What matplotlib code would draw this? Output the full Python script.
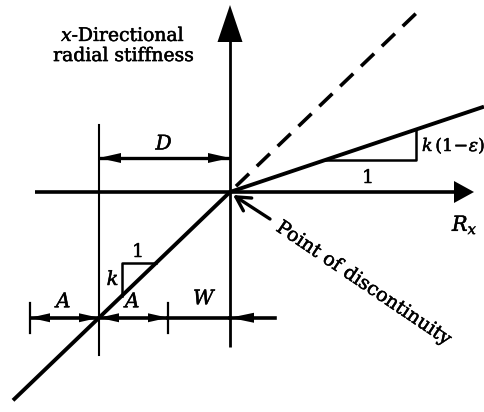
import numpy as np
import matplotlib
matplotlib.use("Agg")
import matplotlib.pyplot as plt
import matplotlib.patheffects as pe
from matplotlib.patches import Polygon

plt.rcParams["mathtext.fontset"] = "dejavuserif"
plt.rcParams["font.family"] = ["DejaVu Serif"]

# Stiffness model parameters (drawing units)
k = 0.96          # initial stiffness slope
eps = 0.65        # stiffness reduction factor
A = 69            # half-width of the contact band
W = 62            # gap to the discontinuity
D = A + W         # distance from band centre to the discontinuity

# Text labels
y_label = "$x$-Directional\nradial stiffness"
x_label = "$R_x$"
pointer_label = "Point of discontinuity"
slope_label_low = "$k$"
slope_label_high = r"$k\,(1\!-\!\varepsilon)$"
run_label = "1"

INK = "black"
HEAVY = [pe.withStroke(linewidth=0.35, foreground=INK)]

fig = plt.figure(figsize=(4.84, 4.12), dpi=100)
ax = fig.add_axes([0, 0, 1, 1])
ax.set_xlim(-230, 254)
ax.set_ylim(-220, 192)
ax.axis("off")


def label(x, y, s, size, **kw):
    kw.setdefault("ha", "center")
    kw.setdefault("va", "center")
    return ax.text(x, y, s, fontsize=size, color=INK, path_effects=HEAVY, **kw)


def head(tip, direction, length, half_width):
    """Filled triangular arrow head with its tip at `tip`."""
    d = np.asarray(direction, float)
    d = d / np.hypot(*d)
    n = np.array([-d[1], d[0]])
    t = np.asarray(tip, float)
    base = t - d * length
    pts = [t, base + n * half_width, base - n * half_width]
    ax.add_patch(Polygon(pts, closed=True, color=INK, lw=0, zorder=5))


def dim_arrow(x0, x1, y, lw=2.4, hl=20, hw=4.5):
    ax.plot([x0, x1], [y, y], color=INK, lw=lw, solid_capstyle="butt")
    head((x0, y), (-1, 0), hl, hw)
    head((x1, y), (1, 0), hl, hw)


# Axes of the diagram
ax.plot([-195, 230], [0, 0], color=INK, lw=2.6, solid_capstyle="butt")
head((244, 0), (1, 0), 20, 11)
ax.plot([0, 0], [-155, 155], color=INK, lw=2.0, solid_capstyle="butt")
head((0, 187), (0, 1), 37, 12.5)

# Stiffness curve: slope k below, k(1-eps) above, dashed continuation of k
xl = np.array([-217, 0])
ax.plot(xl, k * xl, color=INK, lw=2.8, solid_capstyle="butt")
xr = np.array([0, 254])
ax.plot(xr, k * (1 - eps) * xr, color=INK, lw=2.8, solid_capstyle="butt")
xd = np.array([6, 190])
ax.plot(xd, k * xd, color=INK, lw=2.6, dashes=(5.0, 3.0))

# Slope triangle for k
cx, cy = -108, -71
ax.plot([cy / k, cx, cx], [cy, cy, k * cx], color=INK, lw=1.8)
label(-92, -60, run_label, 13.5)
label(-117, -88, slope_label_low, 14)

# Slope triangle for k(1-eps)
ty, tx = 32, 186
s2 = k * (1 - eps)
ax.plot([ty / s2, tx, tx], [ty, ty, s2 * tx], color=INK, lw=1.8)
label(138, 14, run_label, 13.5)
label(192, 46, slope_label_high, 12.5, ha="left", clip_on=True)

# Dimension D
ax.plot([-D, -D], [-163, 67], color=INK, lw=1.5)
dim_arrow(-D, 0, 34, lw=2.4, hl=22, hw=5)
label(-D / 2, 48, "$D$", 14.5)

# Dimensions A, A and W along the lower line
yb = -k * D
for xt in (-D - A, -D + A):
    ax.plot([xt, xt], [yb - 15, yb + 15], color=INK, lw=1.6)
dim_arrow(-D - A, -D, yb, lw=2.6, hl=20, hw=4.5)
dim_arrow(-D, -D + A, yb, lw=2.6, hl=20, hw=4.5)
ax.plot([-D + A, 0], [yb, yb], color=INK, lw=2.6)
ax.plot([0, 45], [yb, yb], color=INK, lw=2.6)
head((0, yb), (-1, 0), 24, 5)
label(-D - A / 2, yb + 16, "$A$", 14.5)
label(-D + A / 2, yb + 16, "$A$", 14.5)
label(-W / 2 + 6, yb + 19, "$W$", 14.5)

# Axis labels
label(-107, 146, y_label, 13.5, linespacing=1.15)
label(235, -33, x_label, 15)

# Pointer to the discontinuity
ax.annotate("", xy=(3, -3), xytext=(40, -27),
            arrowprops=dict(arrowstyle="->,head_length=1.0,head_width=0.55",
                            lw=2.4, color=INK, shrinkA=0, shrinkB=0))
label(134, -92, pointer_label, 13.8, rotation=-34, rotation_mode="anchor")

fig.savefig("out.png", dpi=100)
